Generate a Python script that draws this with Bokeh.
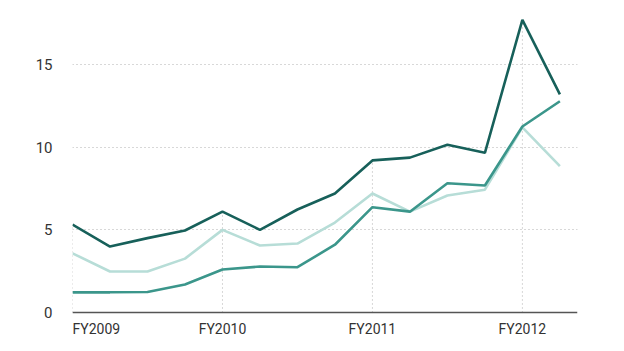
from bokeh.plotting import figure
from bokeh.models import FixedTicker, Range1d, Span, ColumnDataSource
from bokeh.core.properties import value
from bokeh.embed import file_html
from bokeh.resources import INLINE

quarters = list(range(14))
series_dark = [5.32, 3.99, 4.5, 4.96, 6.1, 5.0, 6.23, 7.2, 9.2, 9.37, 10.15, 9.66, 17.7, 13.2]
series_mid = [1.22, 1.22, 1.24, 1.69, 2.6, 2.78, 2.74, 4.1, 6.37, 6.1, 7.82, 7.68, 11.25, 12.78]
series_light = [3.58, 2.48, 2.48, 3.26, 5.0, 4.05, 4.17, 5.44, 7.2, 6.1, 7.08, 7.43, 11.2, 8.85]

year_ticks = [0, 4, 8, 12]
year_labels = ["FY2009", "FY2010", "FY2011", "FY2012"]
y_ticks = [0, 5, 10, 15]

FONT = "Roboto"

p = figure(width=624, height=351, output_backend="svg", toolbar_location=None,
           x_range=Range1d(0, 13.47), y_range=Range1d(-2.36, 18.27),
           min_border_left=72, min_border_right=47, min_border_top=10, min_border_bottom=0)
p.outline_line_color = None
p.background_fill_color = "white"
p.border_fill_color = "white"

p.xgrid.visible = False
p.ygrid.ticker = FixedTicker(ticks=[5, 10, 15])
p.ygrid.grid_line_color = "#b0b0b0"
p.ygrid.grid_line_dash = "1 3"
p.ygrid.grid_line_width = 1

# drop lines at year starts
drop_top = [max(series_dark[i], series_mid[i], series_light[i]) for i in year_ticks]
p.segment(x0=year_ticks, y0=[0] * len(year_ticks), x1=year_ticks, y1=drop_top,
          line_color="#b0b0b0", line_dash="1 3", line_width=1)

p.line(quarters, series_light, line_color="#b7ddd7", line_width=2.6)
p.line(quarters, series_mid, line_color="#3b968b", line_width=2.6)
p.line(quarters, series_dark, line_color="#17605a", line_width=2.6)

# baseline (x axis line)
p.add_layout(Span(location=0, dimension="width", line_color="#555555", line_width=1.5))
p.xaxis.visible = False

lab_src = ColumnDataSource(dict(
    x=year_ticks, y=[0] * len(year_ticks), text=year_labels,
    align=["left" if t == year_ticks[0] else "center" for t in year_ticks]))
p.text(x="x", y="y", text="text", source=lab_src, text_align="align",
       text_baseline="top", y_offset=9, text_font=value(FONT),
       text_font_size="14px", text_color="#333333")

p.yaxis.ticker = FixedTicker(ticks=y_ticks)
p.yaxis.axis_line_color = None
p.yaxis.major_tick_line_color = None
p.yaxis.minor_tick_line_color = None
p.yaxis.major_label_standoff = 14
p.yaxis.major_label_text_font = FONT
p.yaxis.major_label_text_font_size = "15px"
p.yaxis.major_label_text_color = "#333333"

open("out.html", "w").write(file_html(p, INLINE))
